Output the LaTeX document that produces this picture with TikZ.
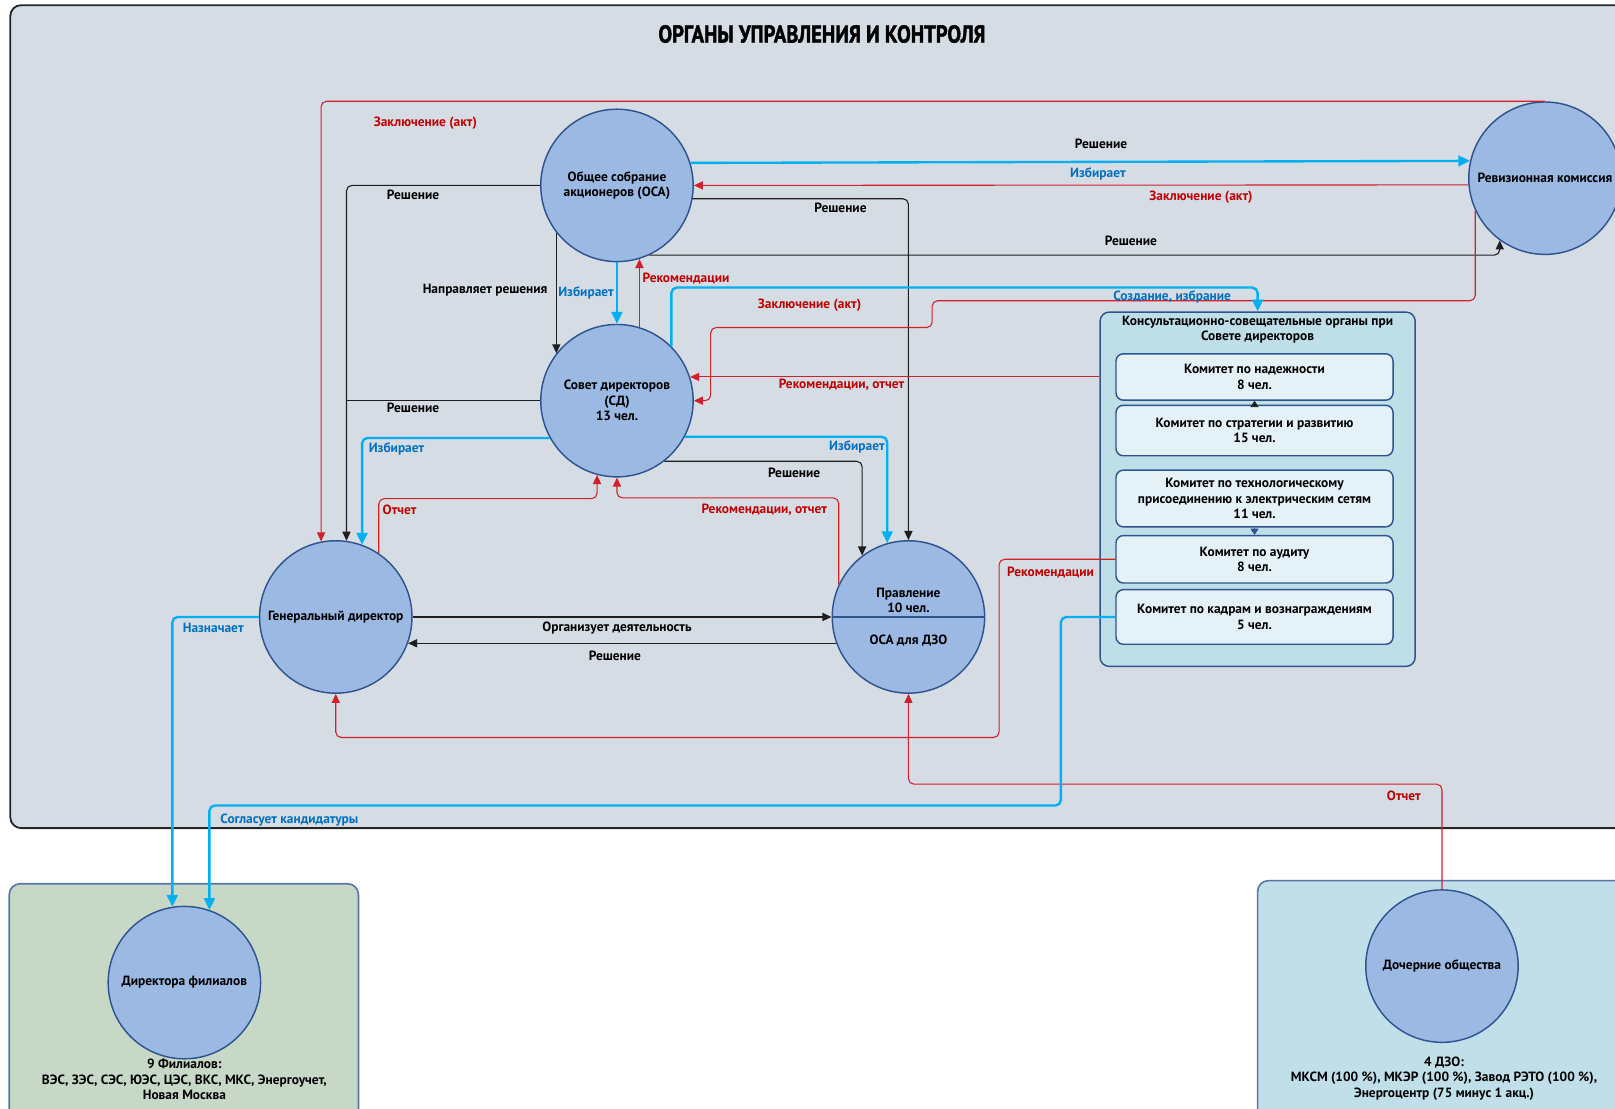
\documentclass[tikz,border=0pt]{standalone}
\usepackage{fontspec}
\setmainfont{PT Sans}
\newfontfamily\titlefont{PT Sans}[FakeStretch=0.84, FakeBold=1.6]
\usetikzlibrary{arrows.meta}

\definecolor{panelbg}{HTML}{D6DCE4}
\definecolor{circfill}{HTML}{9BB9E3}
\definecolor{circline}{HTML}{2E5490}
\definecolor{filbg}{HTML}{C7D8C6}
\definecolor{dzobg}{HTML}{C0DFE9}
\definecolor{ksobg}{HTML}{BEDEE8}
\definecolor{kombg}{HTML}{E4F1F6}
\definecolor{lnred}{HTML}{D0202A}
\definecolor{txred}{HTML}{C00000}
\definecolor{lnblue}{HTML}{00B0F0}
\definecolor{txblue}{HTML}{0070C0}
\definecolor{lnblack}{HTML}{1E1E1E}

\tikzset{
  org/.style={circle, draw=circline, line width=0.8pt, fill=circfill,
    minimum size=2.96cm, inner sep=1pt, align=center},
  kom/.style={rectangle, rounded corners=4pt, draw=circline, line width=0.8pt,
    fill=kombg, minimum width=5.38cm, align=center},
  rline/.style={draw=lnred, line width=0.6pt, rounded corners=3pt,
    -{Triangle[length=5pt,width=4.5pt]}},
  kline/.style={draw=lnblack, line width=0.6pt, rounded corners=3pt,
    -{Triangle[length=5pt,width=4.5pt]}},
  bline/.style={draw=lnblue, line width=1.3pt, rounded corners=3pt,
    -{Triangle[length=6.5pt,width=6pt]}},
  ltr/.style={text=txred},
  ltb/.style={text=txblue},
  ltk/.style={text=black},
}

\begin{document}
\begin{tikzpicture}[x=0.02cm, y=-0.02cm, align=center,
    font=\fontsize{7.4}{8.6}\selectfont\bfseries]
    \useasboundingbox (0,0) rectangle (1568,1076);

    % Панели
    \draw[black!85, line width=1pt, fill=panelbg, rounded corners=6pt]
        (10,5) rectangle (1610,804);
    \draw[circline!80, line width=0.9pt, fill=filbg, rounded corners=6pt]
        (9,858) rectangle (348,1100);
    \draw[circline!80, line width=0.9pt, fill=dzobg, rounded corners=6pt]
        (1221,855) rectangle (1620,1100);

    \node (ttl) at (798,33) {\titlefont\fontsize{13.5}{15}\selectfont ОРГАНЫ УПРАВЛЕНИЯ И КОНТРОЛЯ};

    % Органы
    \node[org] (osa) at (599,180) {Общее собрание\\акционеров (ОСА)};
    \node[org] (rk)  at (1500,173) {Ревизионная комиссия};
    \node[org] (sd)  at (599,389) {Совет директоров\\(СД)\\13 чел.};
    \node[org] (gd)  at (326,599) {Генеральный директор};
    \node[org] (pr)  at (882,599) {};
    \draw[circline, line width=0.8pt] (pr.west) -- (pr.east);
    \node (prt) at (882,583) {Правление\\10 чел.};
    \node (prb) at (882,622) {ОСА для ДЗО};
    \node[org] (df)  at (179,954) {Директора филиалов};
    \node[org] (do)  at (1400,938) {Дочерние общества};

    \node (filt) at (179,1048) {9 Филиалов:\\ВЭС, ЗЭС, СЭС, ЮЭС, ЦЭС, ВКС, МКС, Энергоучет,\\Новая Москва};
    \node (dzot) at (1402,1047) {4 ДЗО:\\МКСМ (100 \%), МКЭР (100 \%), Завод РЭТО (100 \%),\\Энергоцентр (75 минус 1 акц.)};

    % Консультационно-совещательные органы
    \node[rectangle, rounded corners=5pt, draw=circline, line width=0.8pt, fill=ksobg,
        minimum width=6.12cm, minimum height=6.88cm] (kso) at (1221,475) {};
    \node (ksot) at (1221,320) {Консультационно-совещательные органы при\\Совете директоров};
    \node[kom, minimum height=0.9cm]  (k1) at (1218,366) {Комитет по надежности\\8 чел.};
    \node[kom, minimum height=0.98cm] (k2) at (1218,418) {Комитет по стратегии и развитию\\15 чел.};
    \node[kom, minimum height=1.1cm]  (k3) at (1218,484) {Комитет по технологическому\\присоединению к электрическим сетям\\11 чел.};
    \node[kom, minimum height=0.92cm] (k4) at (1218,543) {Комитет по аудиту\\8 чел.};
    \node[kom, minimum height=1.06cm] (k5) at (1218,599) {Комитет по кадрам и вознаграждениям\\5 чел.};
    \draw[-{Triangle[length=3.4pt,width=4.5pt]}, lnblack] (k2.north) -- (k1.south);
    \draw[-{Triangle[length=3.4pt,width=4.5pt]}, circline] (k3.south) -- (k4.north);

    % Связи от ОСА
    \draw[rline] (rk.north) -| (gd.101);
    \draw[kline] (osa.west) -| (gd.82);
    \draw[bline] (osa.17) -- (rk.167);
    \draw[rline] (rk.185) -- (osa.east);
    \draw[kline] (osa.-10) -| (pr.north);
    \draw[kline] (osa.-65) -| (rk.234);
    \draw[bline] (osa.south) -- (sd.north);
    \draw[rline] (sd.73) -- (osa.-73);
    \draw[kline] (osa.218) -- (sd.142);

    % Ревизионная комиссия и комитеты -> СД
    \draw[rline] (rk.205) |- (905,292) -- (905,318) -- (690,318) |- (sd.east);
    \draw[rline] (kso.west |- sd.18) -- (sd.18);
    \draw[bline] (sd.45) -- ++(0,-57) -| (kso.north);

    % Связи от СД
    \draw[kline, -] (sd.west) -- (sd.west -| gd.82);
    \draw[bline] (sd.209) -| (gd.70);
    \draw[bline] (sd.-28) -| (pr.106);
    \draw[kline] (sd.-52) -| (pr.127);
    \draw[rline] (gd.56) -- ++(0,-53) -| (sd.255);
    \draw[rline] (pr.155) -- ++(0,-84) -| (sd.south);

    % ГД и Правление
    \draw[kline] (gd.east) -- (pr.west);
    \draw[kline] (pr.200) -- (gd.-20);
    \draw[rline] (k4.west) -| (970,716) -| (gd.south);
    \draw[rline] (do.north) -- ++(0,-102) -| (pr.south);
    \draw[bline] (gd.west) -| (df.99);
    \draw[bline] (k5.west) -| (1030,782) -| (df.71);

    % Подписи
    \node[ltr] (l1)  at (413,120) {Заключение (акт)};
    \node[ltk] (l2)  at (401,189) {Решение};
    \node[ltk] (l3)  at (1069,140) {Решение};
    \node[ltb] (l4)  at (1066,169) {Избирает};
    \node[ltr] (l5)  at (1166,191) {Заключение (акт)};
    \node[ltk] (l6)  at (816,202) {Решение};
    \node[ltk] (l7)  at (1098,234) {Решение};
    \node[ltk] (l8)  at (471,282) {Направляет решения};
    \node[ltb] (l9)  at (569,284) {Избирает};
    \node[ltr] (l10) at (666,270) {Рекомендации};
    \node[ltb] (l11) at (1138,288) {Создание, избрание};
    \node[ltr] (l12) at (786,296) {Заключение (акт)};
    \node[ltr] (l13) at (817,374) {Рекомендации, отчет};
    \node[ltk] (l14) at (401,396) {Решение};
    \node[ltb] (l15) at (385,436) {Избирает};
    \node[ltb] (l16) at (832,434) {Избирает};
    \node[ltk] (l17) at (771,459) {Решение};
    \node[ltr] (l18) at (388,495) {Отчет};
    \node[ltr] (l19) at (742,495) {Рекомендации, отчет};
    \node[ltr] (l20) at (1020,556) {Рекомендации};
    \node[ltb] (l21) at (207,610) {Назначает};
    \node[ltk] (l22) at (599,610) {Организует деятельность};
    \node[ltk] (l23) at (597,637) {Решение};
    \node[ltb] (l24) at (281,796) {Согласует кандидатуры};
    \node[ltr] (l25) at (1363,773) {Отчет};
\end{tikzpicture}
\end{document}
